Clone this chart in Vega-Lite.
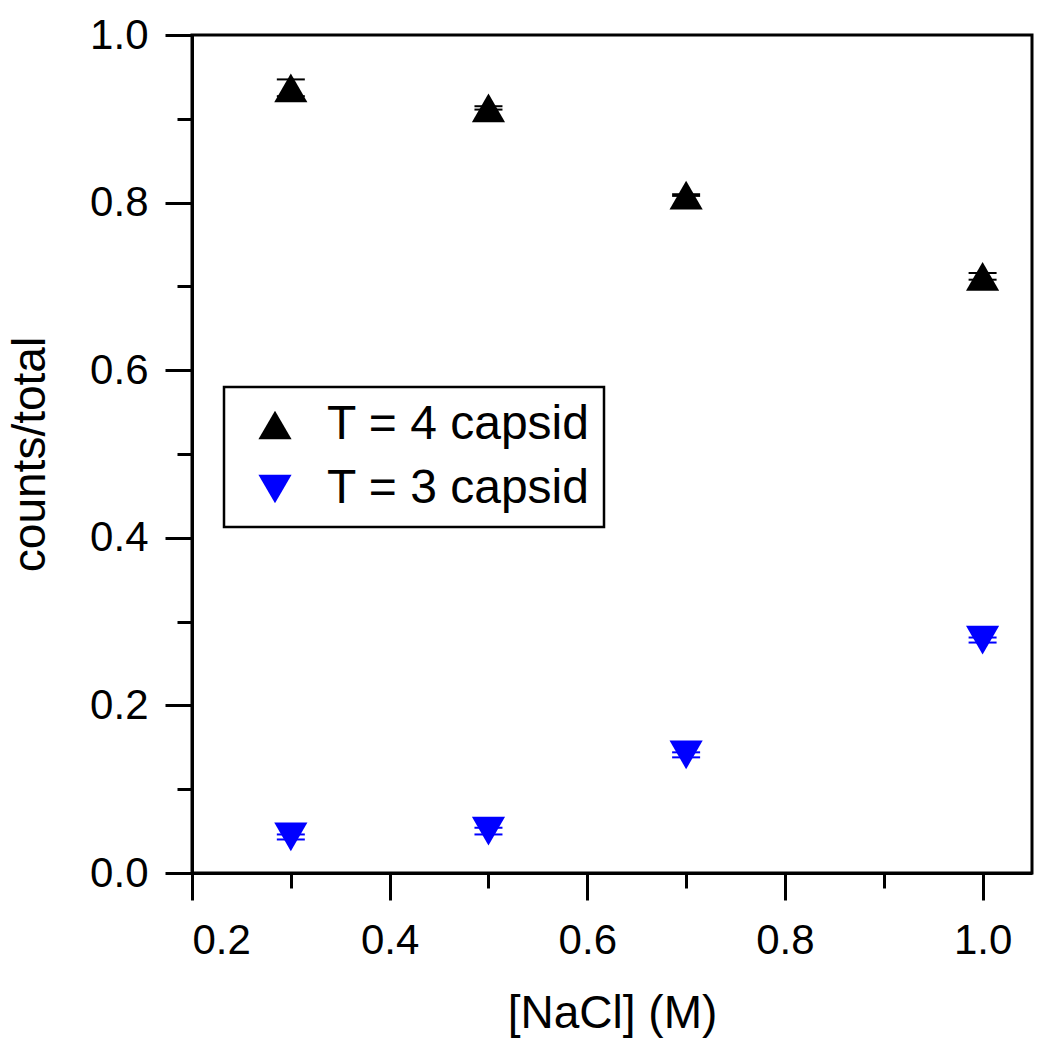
{
  "$schema": "https://vega.github.io/schema/vega-lite/v6.json",
  "width": 840,
  "height": 838,
  "autosize": {"type": "none"},
  "padding": {"left": 192, "top": 35, "right": 18, "bottom": 177},
  "background": "white",
  "config": {
    "view": {"stroke": "black", "strokeWidth": 3},
    "font": "Liberation Sans",
    "axis": {
      "domainColor": "black", "domainWidth": 3,
      "tickColor": "black", "tickWidth": 3,
      "grid": false,
      "labelFont": "Liberation Sans", "labelFontSize": 42, "labelColor": "black",
      "titleFont": "Liberation Sans", "titleFontSize": 46, "titleFontWeight": "normal", "titleColor": "black"
    },
    "legend": {"strokeWidth": 2.5}
  },
  "data": {
    "values": [
      {"nacl": 0.3, "frac": 0.937, "err": 0.010, "series": "T = 4 capsid"},
      {"nacl": 0.5, "frac": 0.913, "err": 0.002, "series": "T = 4 capsid"},
      {"nacl": 0.7, "frac": 0.809, "err": 0.001, "series": "T = 4 capsid"},
      {"nacl": 1.0, "frac": 0.712, "err": 0.004, "series": "T = 4 capsid"},
      {"nacl": 0.3, "frac": 0.043, "err": 0.003, "series": "T = 3 capsid"},
      {"nacl": 0.5, "frac": 0.050, "err": 0.004, "series": "T = 3 capsid"},
      {"nacl": 0.7, "frac": 0.141, "err": 0.003, "series": "T = 3 capsid"},
      {"nacl": 1.0, "frac": 0.278, "err": 0.003, "series": "T = 3 capsid"}
    ]
  },
  "layer": [
    {
      "mark": {"type": "errorbar", "ticks": {"size": 28, "thickness": 2, "opacity": 1}, "thickness": 2, "opacity": 1},
      "encoding": {
        "x": {"field": "nacl", "type": "quantitative", "scale": {"domain": [0.2, 1.05], "nice": false, "zero": false}, "axis": null},
        "y": {"field": "frac", "type": "quantitative", "scale": {"domain": [0, 1], "nice": false}, "axis": null},
        "yError": {"field": "err"},
        "color": {"field": "series", "type": "nominal"}
      }
    },
    {
      "mark": {"type": "point", "filled": true, "size": 1100, "opacity": 1},
      "encoding": {
        "x": {"field": "nacl", "type": "quantitative", "scale": {"domain": [0.2, 1.05], "nice": false, "zero": false},
          "axis": {"orient": "bottom", "values": [0.2, 0.4, 0.6, 0.8, 1.0], "format": ".1f", "tickSize": 27, "labelPadding": 20, "title": "[NaCl] (M)", "titlePadding": 30}},
        "y": {"field": "frac", "type": "quantitative", "scale": {"domain": [0, 1], "nice": false},
          "axis": {"orient": "left", "values": [0, 0.2, 0.4, 0.6, 0.8, 1.0], "format": ".1f", "tickSize": 27, "labelPadding": 17, "title": "counts/total", "titlePadding": 35}},
        "shape": {"field": "series", "type": "nominal",
          "scale": {"domain": ["T = 4 capsid", "T = 3 capsid"], "range": ["triangle-up", "triangle-down"]},
          "legend": {"title": null, "orient": "none", "legendX": 32, "legendY": 352, "strokeColor": "black", "padding": 14, "symbolOffset": 13, "labelOffset": 28, "rowPadding": 16, "symbolSize": 1100, "symbolStrokeWidth": 0, "symbolOpacity": 1, "labelFontSize": 48, "labelFont": "Liberation Sans", "labelColor": "black", "labelLimit": 0}},
        "color": {"field": "series", "type": "nominal",
          "scale": {"domain": ["T = 4 capsid", "T = 3 capsid"], "range": ["black", "#0000ff"]},
          "legend": {"title": null, "orient": "none", "legendX": 32, "legendY": 352, "strokeColor": "black", "padding": 14, "symbolOffset": 13, "labelOffset": 28, "rowPadding": 16, "symbolSize": 1100, "symbolStrokeWidth": 0, "symbolOpacity": 1, "labelFontSize": 48, "labelFont": "Liberation Sans", "labelColor": "black", "labelLimit": 0}}
      }
    },
    {
      "mark": {"type": "point", "opacity": 0},
      "encoding": {
        "x": {"field": "nacl", "type": "quantitative",
          "axis": {"orient": "bottom", "values": [0.3, 0.5, 0.7, 0.9], "labels": false, "domain": false, "tickSize": 15, "title": null}},
        "y": {"field": "frac", "type": "quantitative",
          "axis": {"orient": "left", "values": [0.1, 0.3, 0.5, 0.7, 0.9], "labels": false, "domain": false, "tickSize": 15, "title": null}}
      }
    }
  ],
  "resolve": {"axis": {"x": "independent", "y": "independent"}}
}
